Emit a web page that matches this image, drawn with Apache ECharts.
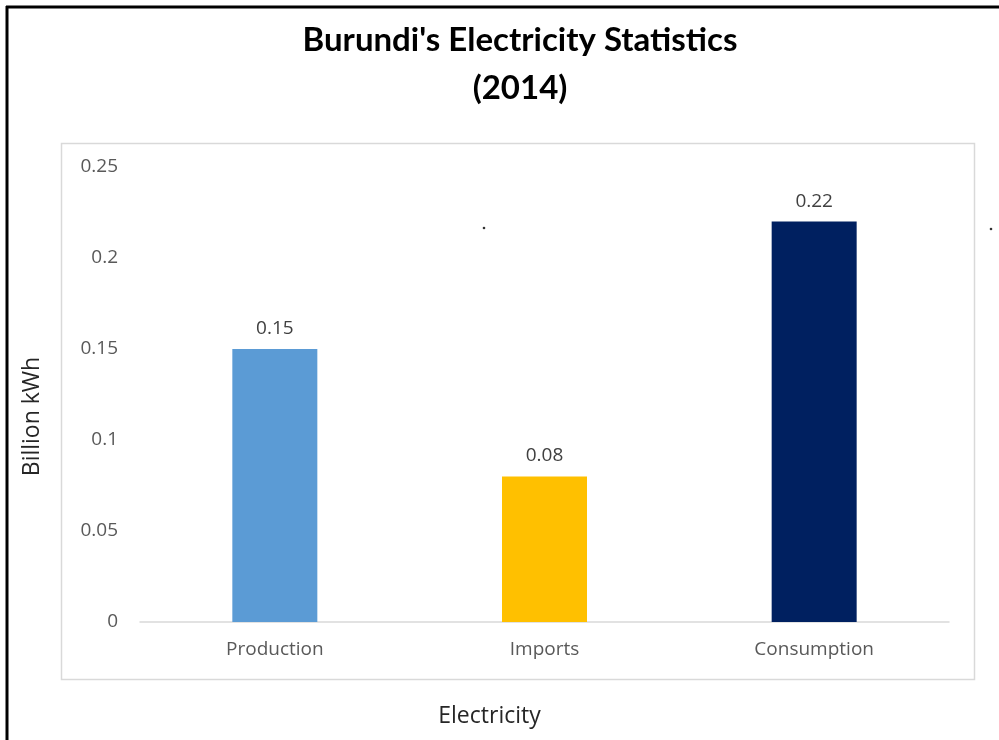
<!DOCTYPE html>
<html>
<head>
<meta charset="utf-8">
<script src="https://cdn.jsdelivr.net/npm/echarts@6/dist/echarts.min.js"></script>
<style>
html,body{margin:0;padding:0;background:#fff;}
#chart{width:999px;height:740px;}
</style>
</head>
<body>
<div id="chart"></div>
<script>
var categories = ['Production', 'Imports', 'Consumption'];
var values = [0.15, 0.08, 0.22];
var barColors = ['#5B9BD5', '#FFC000', '#002060'];
var titleText = "Burundi's Electricity Statistics\n(2014)";
var yAxisName = 'Billion kWh';
var xAxisName = 'Electricity';

var chart = echarts.init(document.getElementById('chart'), null, {renderer: 'canvas'});
var font = '"Open Sans", "Liberation Sans", sans-serif';
var titleFont = 'Lato, "Liberation Sans", sans-serif';

chart.setOption({
  animation: false,
  backgroundColor: '#ffffff',
  title: {
    text: titleText,
    left: 515,
    top: 11,
    textAlign: 'center',
    textStyle: {
      fontFamily: titleFont,
      fontSize: 33,
      fontWeight: 'bold',
      color: '#000000',
      lineHeight: 48
    }
  },
  grid: {
    left: 140,
    right: 50,
    top: 167,
    bottom: 118,
    containLabel: false
  },
  xAxis: {
    type: 'category',
    data: categories,
    name: xAxisName,
    nameLocation: 'middle',
    nameGap: 83,
    nameTextStyle: {
      fontFamily: font,
      fontSize: 23,
      color: '#262626',
      padding: [0, 110, 0, 0]
    },
    axisLine: {show: true, lineStyle: {color: '#d9d9d9', width: 1.5}},
    axisTick: {show: false},
    axisLabel: {
      fontFamily: font,
      fontSize: 19,
      color: '#595959',
      margin: 18
    },
    splitLine: {show: false}
  },
  yAxis: {
    type: 'value',
    min: 0,
    max: 0.25,
    interval: 0.05,
    name: yAxisName,
    nameLocation: 'middle',
    nameGap: 96,
    nameRotate: 90,
    nameTextStyle: {
      fontFamily: font,
      fontSize: 23,
      color: '#262626',
      padding: [0, 44, 0, 0]
    },
    axisLine: {show: false},
    axisTick: {show: false},
    splitLine: {show: false},
    axisLabel: {
      fontFamily: font,
      fontSize: 19,
      color: '#595959',
      margin: 22
    }
  },
  series: [{
    type: 'bar',
    barWidth: 85,
    data: values.map(function (v, i) {
      return {value: v, itemStyle: {color: barColors[i]}};
    }),
    label: {
      show: true,
      position: 'top',
      distance: 11,
      fontFamily: font,
      fontSize: 19,
      color: '#404040'
    }
  }],
  graphic: [
    {type: 'line', shape: {x1: 7, y1: 6, x2: 7, y2: 740}, style: {stroke: '#000', lineWidth: 3}},
    {type: 'line', shape: {x1: 6, y1: 7, x2: 999, y2: 7}, style: {stroke: '#000', lineWidth: 3}},
    {type: 'rect', shape: {x: 61.5, y: 143.5, width: 913, height: 536}, style: {fill: 'none', stroke: '#d9d9d9', lineWidth: 1.5}, z: -1},
    {type: 'circle', shape: {cx: 484, cy: 228, r: 1.3}, style: {fill: '#333'}},
    {type: 'circle', shape: {cx: 991, cy: 229, r: 1.3}, style: {fill: '#333'}}
  ]
});
</script>
</body>
</html>
